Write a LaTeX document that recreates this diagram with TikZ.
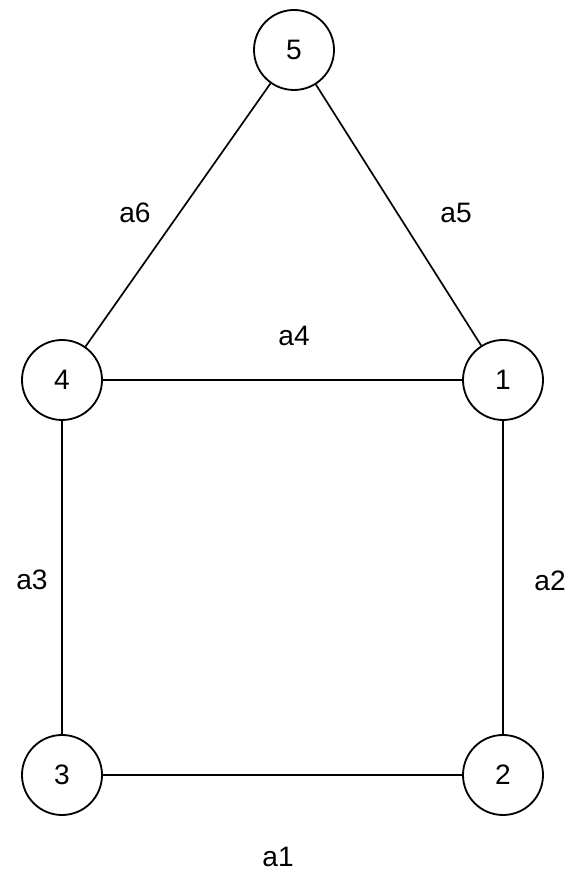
\documentclass[tikz,border=0pt]{standalone}
\usepackage{fontspec}
\setmainfont{Liberation Sans}
\usetikzlibrary{positioning}

\begin{document}
\begin{tikzpicture}[
            font=\fontsize{20}{24}\selectfont,
            vertex/.style={circle, draw=black, fill=white, line width=1.3pt, minimum size=2cm, inner sep=0pt},
            edgelabel/.style={inner sep=0pt},
            link/.style={line width=1.2pt, draw=black}
        ]

        \useasboundingbox (0,0) rectangle (14.275,21.825);

        \node (v5) [vertex] at (7.35,20.575) {5};
        \node (v4) [vertex] at (1.55,12.325) {4};
        \node (v1) [vertex] at (12.575,12.325) {1};
        \node (v3) [vertex] at (1.55,2.45) {3};
        \node (v2) [vertex] at (12.575,2.45) {2};

        \node (l6) [edgelabel] at (3.375,16.5) {a6};
        \node (l5) [edgelabel] at (11.4,16.5) {a5};
        \node (l4) [edgelabel] at (7.35,13.425) {a4};
        \node (l3) [edgelabel] at (0.8,7.325) {a3};
        \node (l2) [edgelabel] at (13.75,7.3) {a2};
        \node (l1) [edgelabel] at (6.95,0.4) {a1};

        \draw [link] (v3) -- (v2);
        \draw [link] (v1) -- (v2);
        \draw [link] (v4) -- (v3);
        \draw [link] (v4) -- (v1);
        \draw [link] (v5) -- (v1);
        \draw [link] (v5) -- (v4);
        \end{tikzpicture}
\end{document}
